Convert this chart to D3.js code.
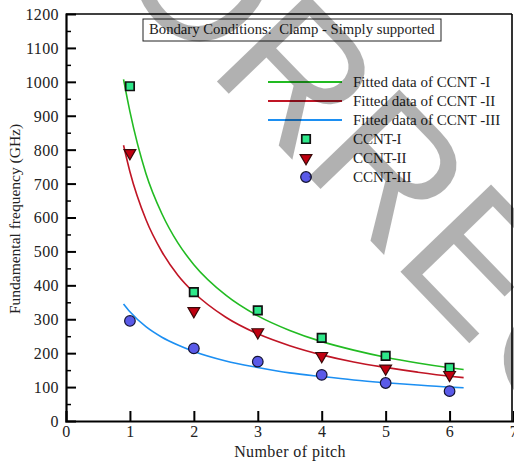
<!DOCTYPE html>
<html>
<head>
<meta charset="utf-8">
<script src="https://cdn.jsdelivr.net/npm/d3@7"></script>
<style>
  html, body { margin: 0; padding: 0; background: #fff; }
  svg { display: block; }
</style>
</head>
<body>
<svg id="chart" width="514" height="463"></svg>
<script>
// Measured natural frequencies at each pitch count
const pitch = [1, 2, 3, 4, 5, 6];
const ccnt1 = [987, 380, 326, 245, 192, 157];
const ccnt2 = [790, 324, 262, 192, 155, 136];
const ccnt3 = [295, 214, 175, 136, 112, 88];

// Fitted curves, sampled along the pitch axis
const fitPitch = [0.9, 1, 1.25, 1.5, 1.75, 2, 2.5, 3, 3.5, 4, 4.5, 5, 5.5, 6, 6.22];
const fit1 = [1007, 912, 730, 611, 525, 461, 371, 310, 267, 234, 209, 188, 171, 157, 152];
const fit2 = [813, 735, 594, 499, 430, 379, 306, 257, 222, 195, 174, 158, 144, 132, 128];
const fit3 = [345, 322, 278, 247, 224, 205, 177, 158, 142, 131, 121, 113, 106, 100, 98];

// Axis ticks
const xTickValues = [0, 1, 2, 3, 4, 5, 6, 7];
const yTickValues = [0, 100, 200, 300, 400, 500, 600, 700, 800, 900, 1000, 1100, 1200];
const yMinorValues = [50, 150, 250, 350, 450, 550, 650, 750, 850, 950, 1050, 1150];

const legendLines = ["Fitted data of CCNT -I", "Fitted data of CCNT -II", "Fitted data of CCNT -III"];
const legendMarks = ["CCNT-I", "CCNT-II", "CCNT-III"];
const titleText = "Bondary Conditions:  Clamp - Simply supported";

const serif = "'Liberation Serif', 'Times New Roman', serif";
const green = "#22bb22", red = "#c01525", blue = "#1c8ff2";

const svg = d3.select("#chart");
const x = d3.scaleLinear().domain([0, 7]).range([66, 513.5]);
const y = d3.scaleLinear().domain([0, 1200]).range([421, 14]);

// Frame (top and right edges)
svg.append("line").attr("x1", x(0)).attr("x2", 512).attr("y1", y(1200)).attr("y2", y(1200))
  .attr("stroke", "#000").attr("stroke-width", 1.6);
svg.append("line").attr("x1", 512).attr("x2", 512).attr("y1", y(1200)).attr("y2", y(0))
  .attr("stroke", "#000").attr("stroke-width", 1.6);

// Left axis with inward ticks
const yAxis = svg.append("g").attr("transform", `translate(${x(0)},0)`)
  .call(d3.axisLeft(y).tickValues(yTickValues).tickSize(-10).tickPadding(7).tickFormat(d3.format("d")));
const yMinor = svg.append("g").attr("transform", `translate(${x(0)},0)`)
  .call(d3.axisLeft(y).tickValues(yMinorValues).tickSize(-5).tickFormat(""));
yMinor.select(".domain").remove();
yMinor.selectAll(".tick line").attr("stroke-width", 1.5);

// Bottom axis with inward ticks
const xAxis = svg.append("g").attr("transform", `translate(0,${y(0)})`)
  .call(d3.axisBottom(x).tickValues(xTickValues).tickSize(-10).tickPadding(5).tickFormat(d3.format("d")));

[yAxis, xAxis].forEach(g => {
  g.attr("font-family", serif);
  g.select(".domain").attr("stroke-width", 2.2);
  g.selectAll(".tick line").attr("stroke-width", 2);
  g.selectAll("text").attr("font-family", serif).attr("font-size", 16)
    .attr("letter-spacing", 0.4).attr("fill", "#222");
});
xAxis.selectAll(".tick").filter(d => d === 0 || d === 7).select("line").remove();
yAxis.selectAll(".tick").filter(d => d === 0 || d === 1200).select("line").remove();
yAxis.selectAll("text").attr("dy", "0.34em");

// Axis titles
svg.append("text").attr("x", 290).attr("y", 457).attr("text-anchor", "middle")
  .attr("font-family", serif).attr("font-size", 16).attr("letter-spacing", 0.4).attr("fill", "#222")
  .text("Number of pitch");
svg.append("text").attr("transform", "translate(20,219) rotate(-90)").attr("text-anchor", "middle")
  .attr("font-family", serif).attr("font-size", 15.5).attr("fill", "#222")
  .text("Fundamental frequency (GHz)");

// Boundary-condition caption
svg.append("rect").attr("x", 143).attr("y", 19).attr("width", 298).attr("height", 22)
  .attr("fill", "#fff").attr("stroke", "#222").attr("stroke-width", 1);
svg.append("text").attr("x", 149).attr("y", 34).attr("font-family", serif).attr("font-size", 14.7)
  .attr("fill", "#222").style("white-space", "pre").text(titleText);

// Fitted curves
const fits = [fit1, fit2, fit3];
const colors = [green, red, blue];
const line = d3.line().x(d => x(d[0])).y(d => y(d[1])).curve(d3.curveMonotoneX);
fits.forEach((f, i) => {
  svg.append("path").datum(fitPitch.map((p, j) => [p, f[j]]))
    .attr("d", line).attr("fill", "none").attr("stroke", colors[i]).attr("stroke-width", 1.6);
});

// Markers
const sq = d3.symbol().type(d3.symbolSquare).size(72);
const tri = d3.symbol().type(d3.symbolTriangle).size(60);
function square(g, cx, cy) {
  g.append("path").attr("d", sq).attr("transform", `translate(${cx},${cy})`)
    .attr("fill", "#2ee88a").attr("stroke", "#111").attr("stroke-width", 1.7);
}
function triangle(g, cx, cy) {
  g.append("path").attr("d", tri).attr("transform", `translate(${cx},${cy}) rotate(180)`)
    .attr("fill", "#c00010").attr("stroke", "#3a0a0a").attr("stroke-width", 1.2);
}
function circle(g, cx, cy) {
  g.append("circle").attr("cx", cx).attr("cy", cy).attr("r", 5.3)
    .attr("fill", "#5a5ae8").attr("stroke", "#141433").attr("stroke-width", 1.2);
}
const marks = svg.append("g");
pitch.forEach((p, i) => {
  square(marks, x(p), y(ccnt1[i]));
  triangle(marks, x(p), y(ccnt2[i]));
  circle(marks, x(p), y(ccnt3[i]));
});

// Legend
const leg = svg.append("g");
legendLines.forEach((t, i) => {
  const ly = 82 + i * 19;
  leg.append("line").attr("x1", 268).attr("x2", 342).attr("y1", ly).attr("y2", ly)
    .attr("stroke", colors[i]).attr("stroke-width", 1.8);
  leg.append("text").attr("x", 353).attr("y", ly + 5).attr("font-family", serif)
    .attr("font-size", 15).attr("fill", "#222").text(t);
});
const markFns = [square, triangle, circle];
legendMarks.forEach((t, i) => {
  const ly = 139 + i * 19;
  markFns[i](leg, 306, ly);
  leg.append("text").attr("x", 353).attr("y", ly + 5).attr("font-family", serif)
    .attr("font-size", 15).attr("fill", "#222").text(t);
});

// Diagonal proof watermark
const wm = svg.append("g").attr("opacity", 0.3);
const wmText = wm.append("text").attr("font-family", "'Liberation Sans', Arial, sans-serif")
  .attr("font-size", 183).attr("fill", "#000").text("CORRECTED");
const angle = 46, rad = angle * Math.PI / 180;
const lead = wmText.node().getSubStringLength(0, 4);
const ax = 390, ay = 261;
wmText.attr("transform",
  `translate(${ax - lead * Math.cos(rad)},${ay - lead * Math.sin(rad)}) rotate(${angle})`);
</script>
</body>
</html>
